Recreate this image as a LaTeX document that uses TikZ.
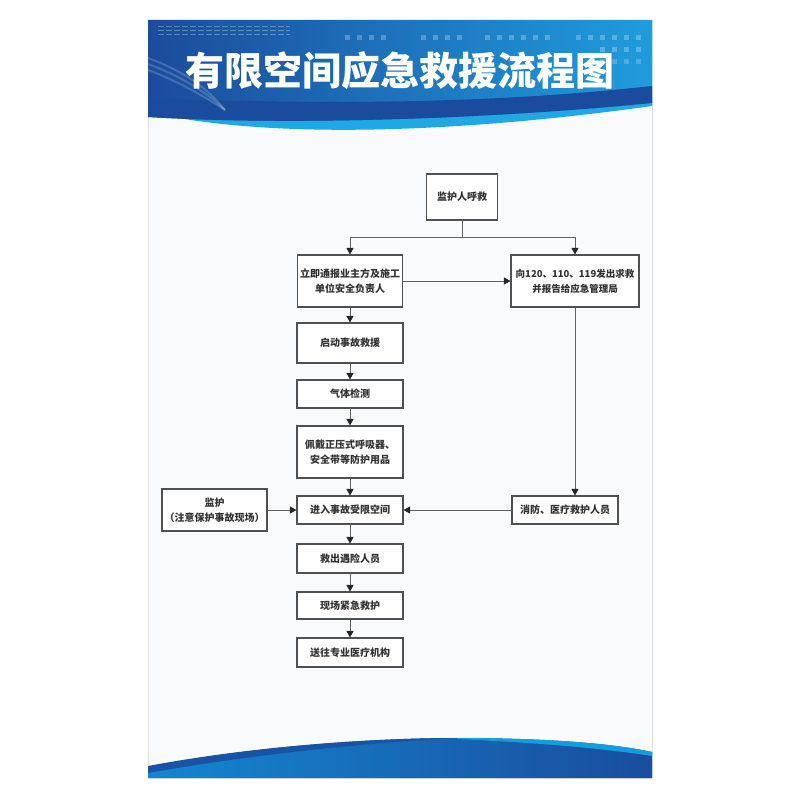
\documentclass[tikz,border=0pt]{standalone}
\usepackage{fontspec}
\newfontfamily\cjk{Noto Sans CJK SC}
\newfontfamily\titlefont{Noto Sans CJK SC Black}
\usepackage{tikz}
\usetikzlibrary{arrows.meta, positioning}
\definecolor{hdark}{HTML}{1B4B9C}
\definecolor{hlight}{HTML}{1F9CDC}
\definecolor{hband}{HTML}{1EA8E4}
\definecolor{fmid}{HTML}{06A6E6}
\definecolor{fleft}{HTML}{1386D0}
\definecolor{fright}{HTML}{1A4D9E}
\definecolor{boxgray}{HTML}{505050}
\definecolor{txtgray}{HTML}{333333}
\definecolor{paper}{HTML}{F9FAFB}
\tikzset{
  bx/.style = {draw=boxgray, line width=1.1pt, fill=white, align=center,
    inner sep=0pt, text=txtgray, minimum width=106pt, minimum height=28pt,
    font=\cjk\bfseries\fontsize{10}{15}\selectfont},
  link/.style = {->, draw=boxgray!90, line width=1pt}
}
\begin{document}
\begin{tikzpicture}[x=1pt, y=-1pt, >={Triangle[length=6.5pt,width=7pt,color=black!85]}]
\useasboundingbox (0,0) rectangle (800,800);
% poster
\fill[white] (0,0) rectangle (800,800);
\fill[paper, draw=black!12] (148,20) rectangle (652,778);
% header
\fill[hband] (148,112) .. controls (280,142) and (480,130) .. (652,106) -- (652,98) -- (148,98) -- cycle;
\shade[left color=hdark, right color=hlight] (148,20) -- (652,20) -- (652,103)
  .. controls (500,118) and (300,126) .. (148,117) -- cycle;
\fill[hdark] (148,98) .. controls (400,108) and (550,97) .. (652,86) -- (652,103)
  .. controls (500,118) and (300,126) .. (148,117) -- cycle;
\foreach \s in {0,6,12}
  \draw[white, opacity=.18, line width=2pt] (148,58+\s) .. controls (180,70+\s) and (205,85+\s) .. (225,110);
\foreach \r in {27,31,35}
  \draw[white, opacity=.3, line width=1pt, dash pattern=on 6pt off 2pt] (158,\r) -- (290,\r);
\foreach \x in {347,359,371,383, 423,435,447,459, 487,499,511,523,535,547, 578,590,602,614,626,638}
  \fill[white, opacity=.25] (\x-2.5,35.5) rectangle (\x+2.5,40.5);
\foreach \x in {602,614,626,638} {
  \fill[white, opacity=.25] (\x-2.5,47.5) rectangle (\x+2.5,52.5);
  \fill[white, opacity=.2] (\x-2.5,59.5) rectangle (\x+2.5,64.5);
}
\node[text=white, font=\titlefont\fontsize{39}{39}\selectfont] (title) at (400,71) {有限空间应急救援流程图};
% footer
\shade[left color=fleft, middle color=fmid, right color=fright] (148,778) -- (148,767)
  .. controls (260,745) and (380,738) .. (457,738) .. controls (560,738) and (620,745) .. (652,752)
  -- (652,778) -- cycle;
\fill[fright!90!fleft] (148,766) .. controls (260,745) and (380,738) .. (457,738)
  .. controls (380,742) and (260,753) .. (148,773) -- cycle;
\fill[cyan!60!fmid] (457,738) .. controls (560,738) and (620,745) .. (652,752) -- (652,756)
  .. controls (600,748) and (540,743) .. (457,739) -- cycle;

% flow chart
\node[bx, minimum width=71pt, minimum height=46pt] (help) at (462,197) {监护人呼救};
\node[bx, minimum width=105pt, minimum height=52pt] (notify) at (350,281) {立即通报业主方及施工\\单位安全负责人};
\node[bx, minimum width=128pt, minimum height=52pt, font=\cjk\bfseries\fontsize{9.5}{15}\selectfont] (call) at (575,281) {向120、110、119发出求救\\并报告给应急管理局};
\node[bx, minimum height=40pt] (start) at (350,343) {启动事故救援};
\node[bx] (gas) at (350,394) {气体检测};
\node[bx, minimum height=52pt] (wear) at (350,452) {佩戴正压式呼吸器、\\安全带等防护用品};
\node[bx] (enter) at (350,510) {进入事故受限空间};
\node[bx, minimum width=105pt, minimum height=42pt] (guard) at (214.5,510) {监护\\（注意保护事故现场）};
\node[bx] (fire) at (565,510) {消防、医疗救护人员};
\node[bx, minimum height=29pt] (rescue) at (350,558.5) {救出遇险人员};
\node[bx, minimum height=27pt] (aid) at (350,605.5) {现场紧急救护};
\node[bx, minimum height=29pt] (send) at (350,652.5) {送往专业医疗机构};

\coordinate (split) at (462,237);
\draw[link, -] (help) -- (split);
\draw[link] (split) -| (notify);
\draw[link] (split) -| (call);
\draw[link] (notify) -- (call);
\draw[link] (call.south) -- (call.south |- fire.north);
\draw[link] (fire) -- (enter);
\draw[link] (guard) -- (enter);
\foreach \a/\b in {notify/start, start/gas, gas/wear, wear/enter, enter/rescue, rescue/aid, aid/send}
  \draw[link] (\a) -- (\b);
\end{tikzpicture}
\end{document}
